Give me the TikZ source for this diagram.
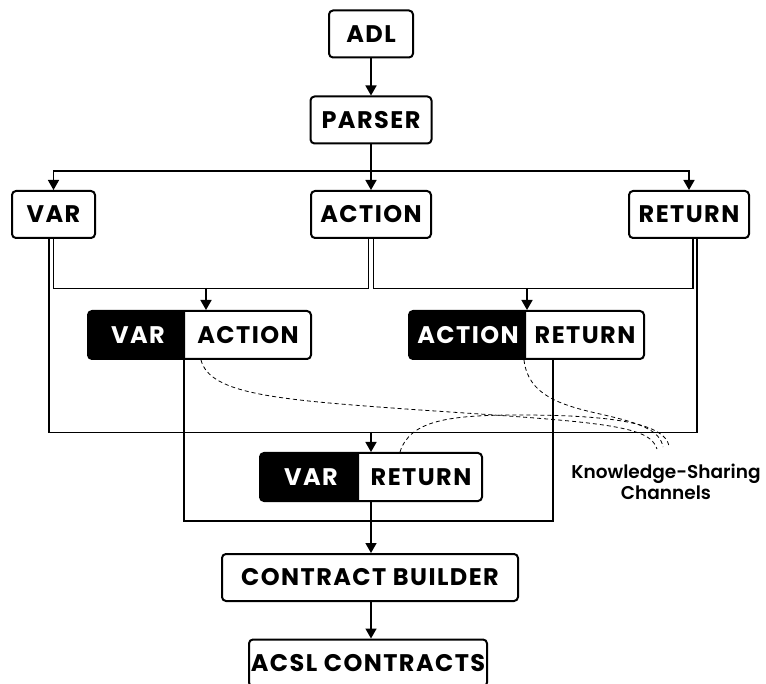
\documentclass[tikz,border=0pt]{standalone}
\usepackage{fontspec}
\setmainfont{Poppins}
\newfontfamily\boxfont{Poppins}[LetterSpace=6]
\newfontfamily\notefont{Poppins SemiBold}
\usetikzlibrary{arrows.meta}
\begin{document}
\begin{tikzpicture}[x=1pt,y=-1pt,
  box/.style={draw, line width=2pt, rounded corners=4pt, minimum height=47pt,
    inner sep=0pt, font=\boxfont\bfseries\fontsize{24}{24}\selectfont},
  pairbox/.style={box, minimum height=48pt},
  pairtxt/.style={inner sep=0pt, font=\boxfont\bfseries\fontsize{24}{24}\selectfont},
  link/.style={line width=1.6pt},
  arr/.style={link, -{Triangle[length=10pt,width=11pt]}},
  channel/.style={line width=0.8pt, dash pattern=on 4pt off 3pt},
  note/.style={align=center, inner sep=0pt, font=\notefont\fontsize{18.5}{21}\selectfont}
]
\useasboundingbox (0,0) rectangle (766,684);
\clip (0,0) rectangle (766,684);

% single boxes
\node[box, minimum width=84pt]  (adl)    at (371,34)    {ADL};
\node[box, minimum width=121pt] (parser) at (371,120)   {PARSER};
\node[box, minimum width=83pt]  (var)    at (53.5,214.5) {VAR};
\node[box, minimum width=120pt] (action) at (371,214.5) {ACTION};
\node[box, minimum width=120pt] (ret)    at (689,214.5) {RETURN};

% paired boxes: black left half, white right half
\begin{scope}
  \clip (80,300) rectangle (185,370);
  \fill[rounded corners=4pt] (88,311) rectangle (311,359);
\end{scope}
\node[pairbox, minimum width=223pt] (va) at (199.5,335) {};
\node[pairtxt, text=white] (va-a) at (138,335) {VAR};
\node[pairtxt] (va-b) at (248,335) {ACTION};

\begin{scope}
  \clip (400,300) rectangle (526,370);
  \fill[rounded corners=4pt] (409,311) rectangle (644,359);
\end{scope}
\node[pairbox, minimum width=235pt] (ar) at (526.5,335) {};
\node[pairtxt, text=white] (ar-a) at (468,335) {ACTION};
\node[pairtxt] (ar-b) at (585,335) {RETURN};

\begin{scope}
  \clip (250,440) rectangle (359,510);
  \fill[rounded corners=4pt] (260,453) rectangle (482,501);
\end{scope}
\node[pairbox, minimum width=222pt] (vr) at (371,477) {};
\node[pairtxt, text=white] (vr-a) at (311,477) {VAR};
\node[pairtxt] (vr-b) at (421,477) {RETURN};

\node[box, minimum width=296pt] (cb)   at (370,577.5) {CONTRACT BUILDER};
\node[box, minimum width=238pt] (acsl) at (368,663)   {ACSL CONTRACTS};

% top of the tree
\draw[arr] (adl) -- (parser);
\draw[arr] (parser) -- (action);
\draw[arr] (parser.south) -- ++(0,26.5) -| (var.north);
\draw[arr] (parser.south) -- ++(0,26.5) -| (ret.north);

% first-level pairs
\coordinate (vaj) at (206,288);
\coordinate (arj) at (527,288);
\draw[link] (var.south) -- ++(0,49.5) -| ([xshift=-2.5pt]action.south);
\draw[link] ([xshift=2.5pt]action.south) -- ++(0,49.5) -| ([xshift=4pt]ret.south);
\draw[arr] (vaj) -- (vaj |- va.north);
\draw[arr] (arj) -- (arj |- ar.north);

% outer loop to the VAR/RETURN pair
\coordinate (vrj) at (371,432);
\draw[link] ([xshift=-4.5pt]var.south) -- ++(0,193.5) -| ([xshift=8pt]ret.south);
\draw[arr] (vrj) -- (vr.north);

% lower loop and output chain
\draw[link] ([xshift=-15.5pt]va.south) -- ++(0,161) -| ([xshift=26.5pt]ar.south);
\draw[arr] (vr.south) -- (vr.south |- cb.north);
\draw[arr] (vr.south |- cb.south) -- (vr.south |- acsl.north);

% knowledge-sharing channels
\node[note] (ksc) at (666,482) {Knowledge-Sharing\\Channels};
\coordinate (k1) at (657,449);
\coordinate (k2) at (663,447);
\coordinate (k3) at (669,446);
\draw[channel] ([xshift=1.5pt]va.south) .. controls (210,395) and (280,400) .. (420,410)
  .. controls (600,422) and (650,425) .. (k1);
\draw[channel] ([xshift=-2.5pt]ar.south) .. controls (528,395) and (560,405) .. (600,414)
  .. controls (640,423) and (660,430) .. (k2);
\draw[channel] ([xshift=29pt]vr.north) .. controls (410,420) and (450,415) .. (520,415)
  .. controls (620,415) and (665,425) .. (k3);
\end{tikzpicture}
\end{document}
